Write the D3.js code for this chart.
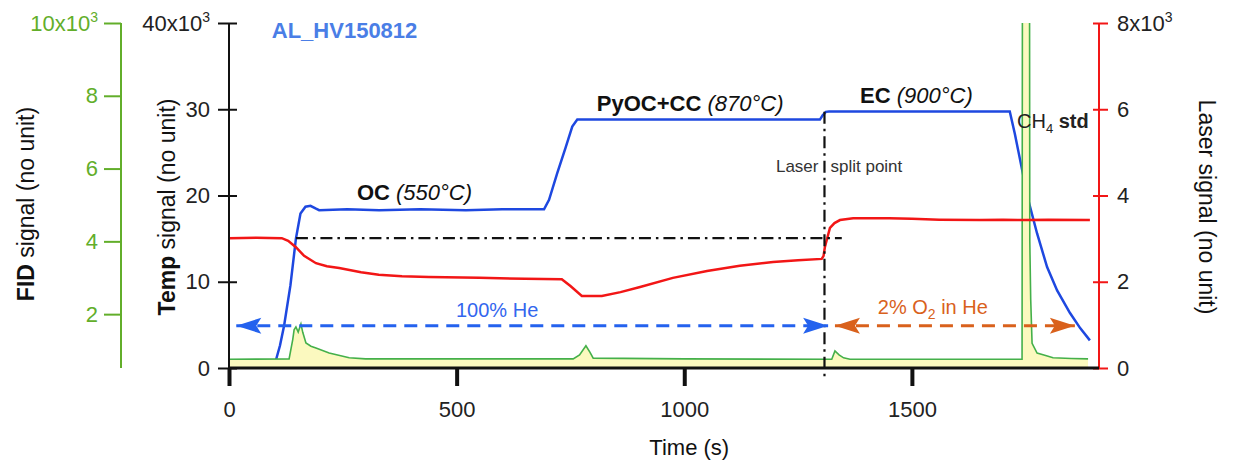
<!DOCTYPE html>
<html>
<head>
<meta charset="utf-8">
<script src="https://cdn.jsdelivr.net/npm/d3@7"></script>
<style>
  body { margin: 0; background: #fff; }
  svg { font-family: "Liberation Sans", Arial, sans-serif; }
</style>
</head>
<body>
<svg id="chart" width="1233" height="470"></svg>
<script>
// ---- data (signals in units of 10^3) ----
var tempTime   = [103, 112, 121, 135, 147, 157, 168, 179, 190, 198, 260, 330, 420, 520, 600, 692, 703, 721, 739, 754, 765, 900, 1100, 1298, 1304, 1311, 1318, 1500, 1715, 1726, 1742, 1757, 1775, 1797, 1819, 1847, 1870, 1891];
var tempSignal = [0.9, 2.6, 4.9, 9.6, 15.0, 17.9, 18.7, 18.8, 18.5, 18.3, 18.4, 18.3, 18.4, 18.3, 18.4, 18.4, 19.5, 22.6, 25.5, 28.0, 28.8, 28.8, 28.8, 28.8, 29.3, 29.7, 29.75, 29.75, 29.75, 27.2, 23.0, 19.2, 15.6, 11.7, 9.0, 6.4, 4.6, 3.2];

var laserTime   = [0, 60, 116, 130, 147, 165, 191, 215, 242, 290, 329, 380, 439, 550, 650, 731, 750, 775, 819, 860, 903, 975, 1050, 1122, 1195, 1250, 1302, 1306, 1309, 1315, 1320, 1330, 1342, 1371, 1450, 1500, 1560, 1649, 1700, 1750, 1800, 1891];
var laserSignal = [3.01, 3.02, 3.01, 2.95, 2.80, 2.60, 2.43, 2.36, 2.32, 2.22, 2.16, 2.13, 2.11, 2.09, 2.07, 2.06, 1.90, 1.67, 1.67, 1.76, 1.88, 2.09, 2.25, 2.37, 2.46, 2.50, 2.53, 2.60, 2.81, 3.05, 3.25, 3.36, 3.43, 3.47, 3.47, 3.46, 3.44, 3.43, 3.44, 3.43, 3.44, 3.43];

var fidTime   = [0, 132, 140, 143, 147, 152, 158, 162, 169, 180, 191, 220, 264, 300, 756, 770, 784, 793, 800, 1000, 1324, 1331, 1340, 1350, 1364, 1742, 1745, 1756, 1759, 1761, 1764, 1775, 1790, 1810, 1850, 1887];
var fidSignal = [0.76, 0.77, 1.30, 1.57, 1.65, 1.51, 1.73, 1.50, 1.21, 1.12, 1.07, 0.93, 0.80, 0.77, 0.77, 0.88, 1.13, 0.95, 0.79, 0.77, 0.76, 0.99, 0.88, 0.80, 0.76, 0.76, 40, 40, 4.0, 2.4, 1.2, 0.93, 0.88, 0.80, 0.78, 0.77];

var timeTicks  = [0, 500, 1000, 1500];
var tempTicks  = [0, 10, 20, 30, 40];
var laserTicks = [0, 2, 4, 6, 8];
var fidTicks   = [2, 4, 6, 8, 10];

var splitTime = 1308;

// ---- colours ----
var blue = "#1e48e0", red = "#f21616", fidGreen = "#44b04a", axisGreen = "#62ae2a";
var arrowBlue = "#2462ee", orange = "#d9611c";

var svg = d3.select("#chart");

var x      = d3.scaleLinear().domain([0, 1911]).range([229, 1099]);
var yTemp  = d3.scaleLinear().domain([0, 40]).range([368, 23]);
var yLaser = d3.scaleLinear().domain([0, 8]).range([368, 23]);
var yFid   = d3.scaleLinear().domain([0.52, 10]).range([368, 23]);

var defs = svg.append("defs");
defs.append("clipPath").attr("id", "plot")
  .append("rect").attr("x", x(0)).attr("y", yTemp(40))
  .attr("width", x(1911) - x(0)).attr("height", yTemp(0) - yTemp(40));

function arrowMarker(id, col) {
  defs.append("marker")
    .attr("id", id)
    .attr("viewBox", "-26 -10 28 20")
    .attr("refX", 0).attr("refY", 0)
    .attr("markerWidth", 28).attr("markerHeight", 20)
    .attr("markerUnits", "userSpaceOnUse")
    .attr("orient", "auto-start-reverse")
    .append("path")
    .attr("d", "M0,0 L-25,-8 L-20,0 L-25,8 Z")
    .attr("fill", col);
}
arrowMarker("arrBlue", arrowBlue);
arrowMarker("arrOrange", orange);

var plot = svg.append("g").attr("clip-path", "url(#plot)");

var temp = d3.zip(tempTime, tempSignal);
var laser = d3.zip(laserTime, laserSignal);
var fid = d3.zip(fidTime, fidSignal);

// temperature (under the FID peak)
plot.append("path").datum(temp)
  .attr("fill", "none").attr("stroke", blue).attr("stroke-width", 2.5)
  .attr("d", d3.line().x(d => x(d[0])).y(d => yTemp(d[1])));

// FID area + line
plot.append("path").datum(fid)
  .attr("fill", "#fbf9bf")
  .attr("d", d3.area().x(d => x(d[0])).y0(yFid(0.52)).y1(d => yFid(d[1])));
plot.append("path").datum(fid)
  .attr("fill", "none").attr("stroke", fidGreen).attr("stroke-width", 1.6)
  .attr("d", d3.line().x(d => x(d[0])).y(d => yFid(d[1])));

// laser
plot.append("path").datum(laser)
  .attr("fill", "none").attr("stroke", red).attr("stroke-width", 2.5)
  .attr("d", d3.line().x(d => x(d[0])).y(d => yLaser(d[1])));

// split point guides
svg.append("line")
  .attr("x1", x(147)).attr("x2", x(1346))
  .attr("y1", yLaser(3.01)).attr("y2", yLaser(3.01))
  .attr("stroke", "#111").attr("stroke-width", 2.2)
  .attr("stroke-dasharray", "12,5,2.5,5");
svg.append("line")
  .attr("x1", x(splitTime)).attr("x2", x(splitTime))
  .attr("y1", yTemp(29.7)).attr("y2", yTemp(0) + 10)
  .attr("stroke", "#111").attr("stroke-width", 2.2)
  .attr("stroke-dasharray", "12,5,2.5,5");

// gas arrows
svg.append("line")
  .attr("x1", x(16)).attr("x2", x(1316))
  .attr("y1", yTemp(4.9)).attr("y2", yTemp(4.9))
  .attr("stroke", arrowBlue).attr("stroke-width", 3)
  .attr("stroke-dasharray", "13,8")
  .attr("marker-start", "url(#arrBlue)").attr("marker-end", "url(#arrBlue)");
svg.append("line")
  .attr("x1", x(1331)).attr("x2", x(1858))
  .attr("y1", yTemp(4.9)).attr("y2", yTemp(4.9))
  .attr("stroke", orange).attr("stroke-width", 3)
  .attr("stroke-dasharray", "13,8")
  .attr("marker-start", "url(#arrOrange)").attr("marker-end", "url(#arrOrange)");

// ---- axes ----
function supLabel(g, top, base) {
  g.selectAll(".tick text").filter(d => d === top)
    .text(base)
    .append("tspan").attr("dy", "-0.6em").attr("font-size", "14px").text("3");
}

var gTemp = svg.append("g").attr("transform", "translate(" + x(0) + ",0)")
  .call(d3.axisLeft(yTemp).tickValues(tempTicks).tickSize(11).tickSizeOuter(0).tickPadding(8));
gTemp.select(".domain").remove();
gTemp.selectAll(".tick line").attr("x1", 8).attr("stroke", "#111").attr("stroke-width", 2);
gTemp.append("line").attr("y1", yTemp(0)).attr("y2", yTemp(40)).attr("stroke", "#111").attr("stroke-width", 2);
gTemp.selectAll(".tick text").attr("font-size", "22px").attr("fill", "#222").attr("font-family", null);
supLabel(gTemp, 40, "40x10");

var gFid = svg.append("g").attr("transform", "translate(121,0)")
  .call(d3.axisLeft(yFid).tickValues(fidTicks).tickSize(17).tickSizeOuter(0).tickPadding(6));
gFid.select(".domain").remove();
gFid.selectAll(".tick line").attr("stroke", axisGreen).attr("stroke-width", 2);
gFid.append("line").attr("y1", yFid(0.52)).attr("y2", yFid(10)).attr("stroke", axisGreen).attr("stroke-width", 2);
gFid.selectAll(".tick text").attr("font-size", "22px").attr("fill", axisGreen).attr("font-family", null);
supLabel(gFid, 10, "10x10");

var gLaser = svg.append("g").attr("transform", "translate(" + x(1911) + ",0)")
  .call(d3.axisRight(yLaser).tickValues(laserTicks).tickSize(9).tickSizeOuter(0).tickPadding(9));
gLaser.select(".domain").remove();
gLaser.selectAll(".tick line").attr("x1", -6).attr("stroke", red).attr("stroke-width", 2);
gLaser.append("line").attr("y1", yLaser(0)).attr("y2", yLaser(8)).attr("stroke", red).attr("stroke-width", 2);
gLaser.selectAll(".tick text").attr("font-size", "22px").attr("fill", "#222").attr("font-family", null);
supLabel(gLaser, 8, "8x10");

var gX = svg.append("g").attr("transform", "translate(0," + yTemp(0) + ")")
  .call(d3.axisBottom(x).tickValues(timeTicks).tickFormat(d3.format("d"))
    .tickSize(18).tickSizeOuter(0).tickPadding(15));
gX.select(".domain").remove();
gX.selectAll(".tick line").attr("stroke", "#111").attr("stroke-width", 4);
gX.append("line").attr("x1", x(0)).attr("x2", x(1911)).attr("stroke", "#111").attr("stroke-width", 3);
gX.selectAll(".tick text").attr("font-size", "22px").attr("fill", "#222").attr("font-family", null);

// ---- axis titles ----
var t1 = svg.append("text").attr("transform", "translate(34,204) rotate(-90)")
  .attr("text-anchor", "middle").attr("font-size", "23px").attr("fill", "#111");
t1.append("tspan").attr("font-weight", "bold").text("FID");
t1.append("tspan").text(" signal (no unit)");

var t2 = svg.append("text").attr("transform", "translate(175,207) rotate(-90)")
  .attr("text-anchor", "middle").attr("font-size", "23px").attr("fill", "#111");
t2.append("tspan").attr("font-weight", "bold").text("Temp");
t2.append("tspan").text(" signal (no unit)");

svg.append("text").attr("transform", "translate(1199,207) rotate(90)")
  .attr("text-anchor", "middle").attr("font-size", "23px").attr("fill", "#111")
  .text("Laser signal (no unit)");

svg.append("text").attr("x", x(1011)).attr("y", 455)
  .attr("text-anchor", "middle").attr("font-size", "22px").attr("fill", "#111")
  .text("Time (s)");

// ---- annotations ----
svg.append("text").attr("x", x(94)).attr("y", yTemp(38.3))
  .attr("font-size", "22px").attr("font-weight", "bold").attr("fill", "#4a7ee6")
  .text("AL_HV150812");

function phase(t, v, bold, ital) {
  var txt = svg.append("text").attr("x", x(t)).attr("y", yTemp(v))
    .attr("font-size", "22px").attr("fill", "#111");
  txt.append("tspan").attr("font-weight", "bold").text(bold);
  txt.append("tspan").attr("font-style", "italic").text(" " + ital);
}
phase(281, 19.5, "OC", "(550°C)");
phase(808, 29.8, "PyOC+CC", "(870°C)");
phase(1386, 30.7, "EC", "(900°C)");

var ch = svg.append("text").attr("x", x(1731)).attr("y", yTemp(27.8))
  .attr("font-size", "20px").attr("fill", "#222");
ch.append("tspan").text("CH");
ch.append("tspan").attr("font-size", "13px").attr("dy", "5").text("4");
ch.append("tspan").attr("dy", "-5").attr("font-weight", "bold").text(" std");

var sp = svg.append("text").attr("y", yTemp(22.7)).attr("font-size", "17px").attr("fill", "#333");
sp.append("tspan").attr("x", x(splitTime) - 6).attr("text-anchor", "end").text("Laser");
sp.append("tspan").attr("x", x(splitTime) + 6).text("split point");

svg.append("text").attr("x", x(589)).attr("y", yTemp(5.9))
  .attr("text-anchor", "middle").attr("font-size", "20px").attr("fill", "#3366ee")
  .text("100% He");

var ox = svg.append("text").attr("x", x(1546)).attr("y", yTemp(6.3))
  .attr("text-anchor", "middle").attr("font-size", "20px").attr("fill", orange);
ox.append("tspan").text("2% O");
ox.append("tspan").attr("font-size", "14px").attr("dy", "5").text("2");
ox.append("tspan").attr("dy", "-5").text(" in He");
</script>
</body>
</html>
